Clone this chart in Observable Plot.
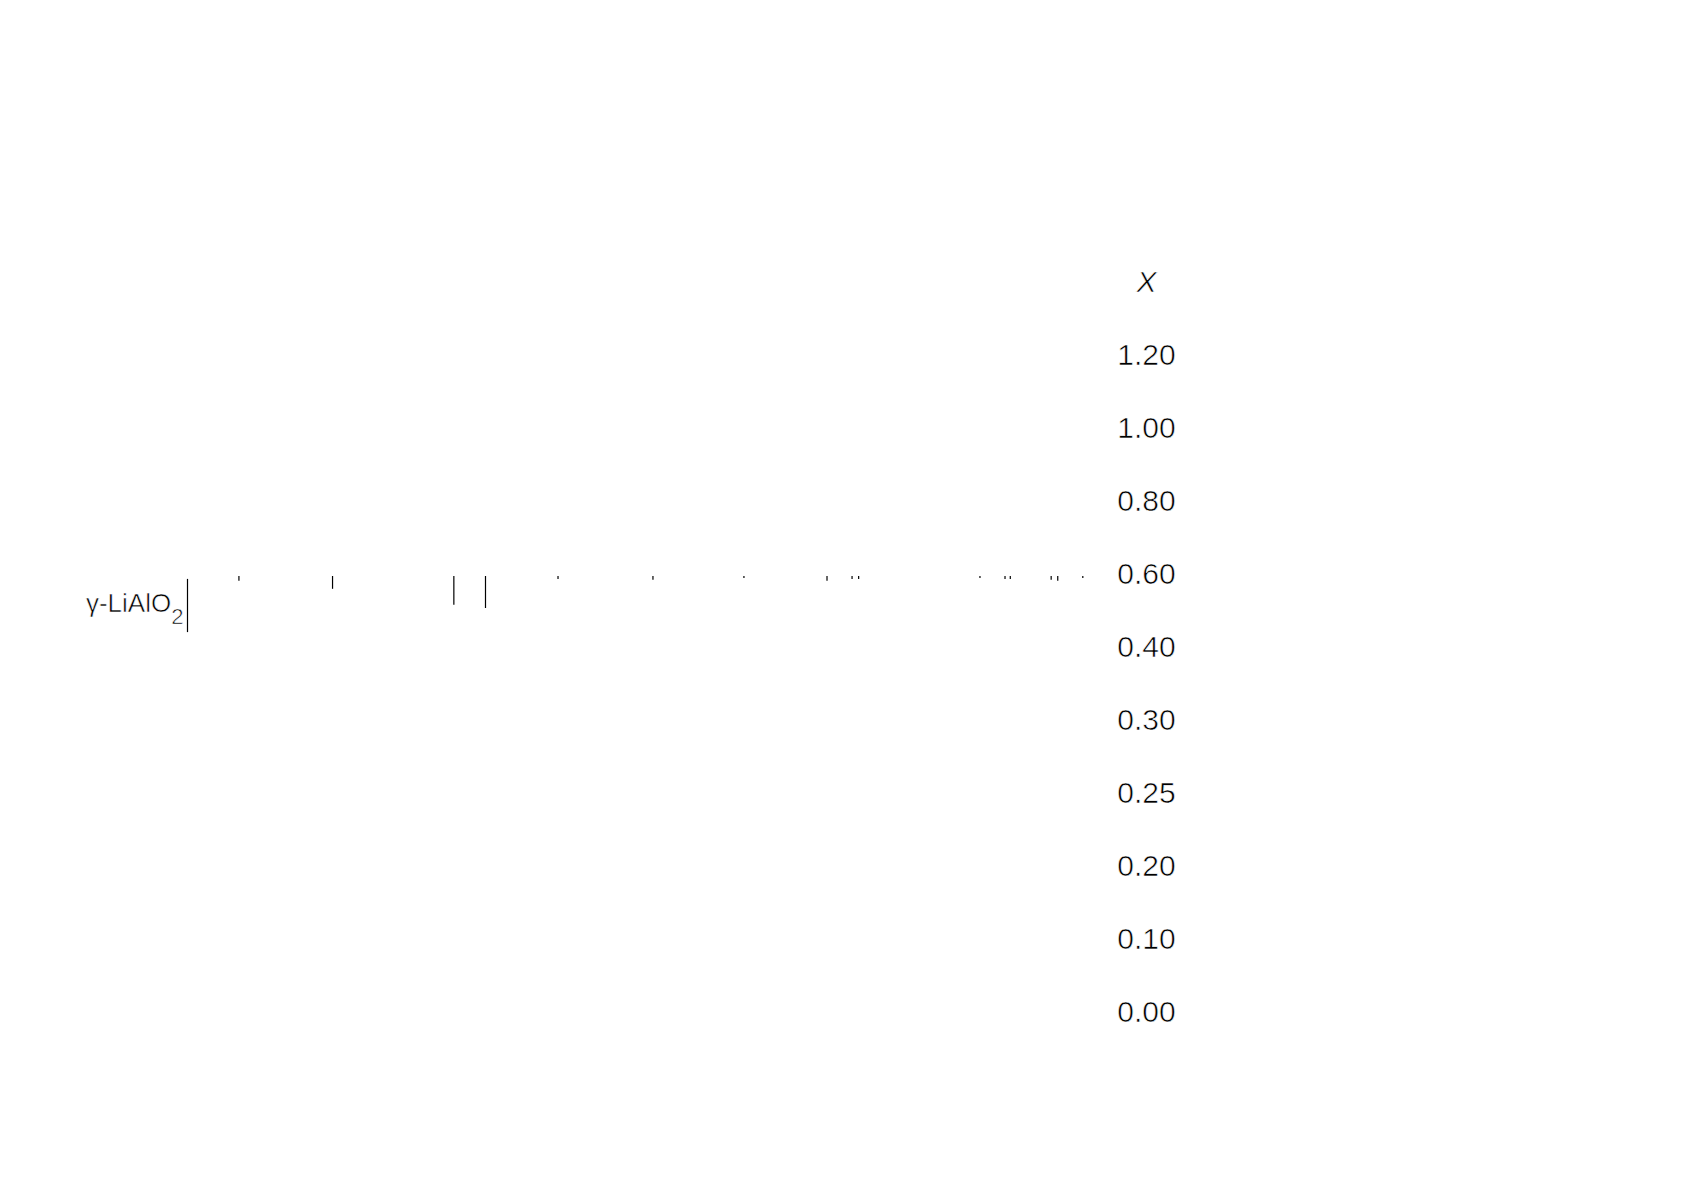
<!DOCTYPE html>
<html>
<head>
<meta charset="utf-8">
<script src="https://cdn.jsdelivr.net/npm/d3@7"></script>
<script src="https://cdn.jsdelivr.net/npm/@observablehq/plot@0.6"></script>
<style>
  html, body { margin: 0; padding: 0; background: #fff; overflow: hidden; }
  #page { position: relative; width: 1687px; height: 1183px; }
  #page svg { position: absolute; left: 0; background: transparent !important; max-width: none !important; }
</style>
</head>
<body>
<div id="page">
  <div id="labels"></div>
  <div id="sticks"></div>
</div>
<script>
// composition column (x in the sample series), top to bottom
const enTete = "X";
const compositions = ["1.20", "1.00", "0.80", "0.60", "0.40", "0.30", "0.25", "0.20", "0.10", "0.00"];

// reference pattern of γ-LiAlO2 : 2θ (deg) and relative intensity
const nomReference = "γ-LiAlO2";
const deuxTheta = [13.9, 21.0, 30.2, 32.6, 38.1, 45.3, 52.2, 58.5, 60.4, 60.9, 70.1, 72.0, 72.4, 75.5, 76.0, 77.9];
const intensite = [15, 40, 90, 100, 9, 12, 6, 15, 9, 9, 6, 9, 9, 12, 15, 6];

const police = "'Liberation Sans', Arial, Helvetica, sans-serif";

// thin the glyphs a little: white stroke painted over the fill
const trait = {stroke: "#fff", strokeWidth: 0.6, paintOrder: "normal"};

function afficherEtiquettes(divId) {
  const lignes = [enTete, ...compositions];
  const chart = Plot.plot({
    width: 1687,
    height: 1183,
    marginLeft: 1146,
    marginRight: 0,
    marginTop: 0,
    marginBottom: 0,
    style: {fontFamily: police, color: "#000"},
    y: {type: "point", domain: lignes, range: [279, 1015], padding: 0, axis: null},
    marks: [
      Plot.text([enTete], {y: d => d, text: d => d, frameAnchor: "left", textAnchor: "middle",
        fontSize: 30, fontStyle: "italic", fill: "#000", ...trait}),
      Plot.text(compositions, {y: d => d, text: d => d, frameAnchor: "left", textAnchor: "middle",
        fontSize: 30, fill: "#000", ...trait})
    ]
  });
  chart.style.top = "0px";
  document.getElementById(divId).appendChild(chart);
}

function afficherBatonnets(divId) {
  const pics = deuxTheta.map((t, i) => ({t, I: intensite[i]}));
  const chart = Plot.plot({
    width: 1110,
    height: 71,
    marginLeft: 187,
    marginRight: 0,
    marginTop: 19,
    marginBottom: 0,
    style: {fontFamily: police, color: "#000", overflow: "visible"},
    x: {domain: [10, 80], axis: null},
    y: {domain: [0, 100], range: [16, 48], axis: null},
    marks: [
      Plot.frame({anchor: "left", stroke: "#000", strokeWidth: 1.2}),
      Plot.ruleX(pics, {x: "t", y1: 0, y2: "I", stroke: "#000", strokeWidth: 1.2}),
      Plot.text([nomReference], {frameAnchor: "left", text: d => d, textAnchor: "end",
        dx: -4, dy: -2, fontSize: 26, fill: "#000", ...trait})
    ]
  });
  chart.style.top = "560px";
  document.getElementById(divId).appendChild(chart);

  // subscript on the formula
  d3.select(chart).selectAll("text").filter(function () { return this.textContent === nomReference; })
    .each(function () {
      const t = d3.select(this);
      t.text("γ-LiAlO");
      t.append("tspan").attr("font-size", "0.85em").attr("dy", "0.55em").text("2");
    });
}

afficherEtiquettes("labels");
afficherBatonnets("sticks");
</script>
</body>
</html>
